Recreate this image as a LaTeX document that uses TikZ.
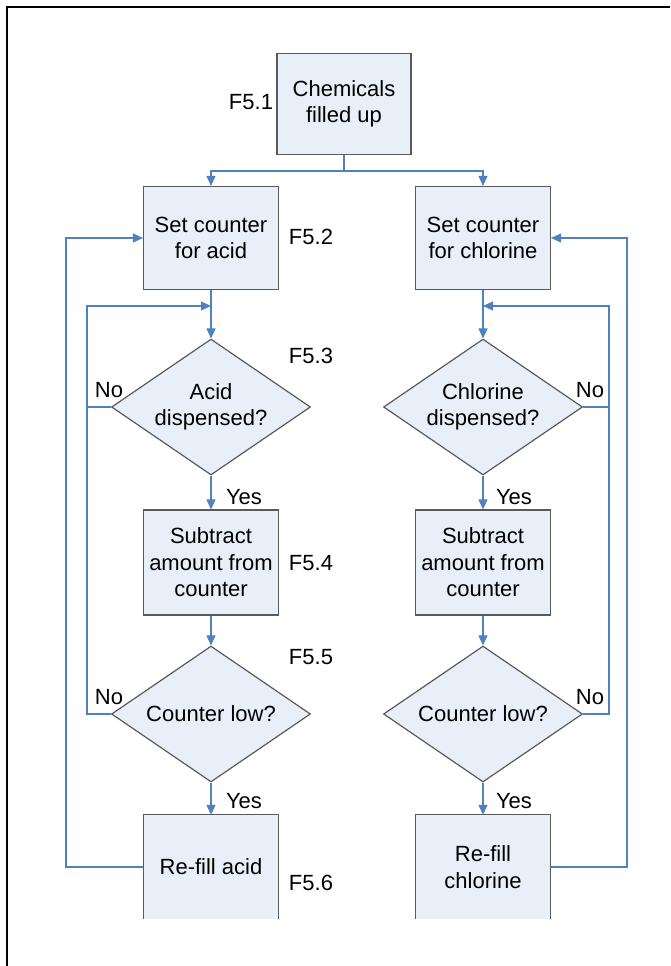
\documentclass[tikz,border=0pt]{standalone}
\usepackage{fontspec}
\setmainfont{Liberation Sans}
\usetikzlibrary{shapes.geometric,arrows.meta}
\definecolor{boxfill}{RGB}{233,239,248}
\definecolor{boxline}{RGB}{90,90,90}
\definecolor{conn}{RGB}{79,129,189}
\begin{document}
\begin{tikzpicture}[x=1pt,y=-1pt,
  font=\fontsize{22}{26.5}\selectfont,
  procbox/.style={draw=boxline,fill=boxfill,line width=1.2pt,align=center,inner sep=0pt,
    minimum width=135pt,minimum height=103pt},
  fillbox/.style={fill=boxfill,align=center,inner sep=0pt,minimum width=135pt,minimum height=104pt},
  decision/.style={diamond,aspect=1.46,draw=boxline,fill=boxfill,line width=1.2pt,align=center,inner sep=0pt,
    minimum width=199pt,minimum height=136pt},
  conline/.style={draw=conn,line width=1.1pt},
  conarrow/.style={conline,-{Triangle[length=10pt,width=9pt]}},
  lbl/.style={inner sep=0pt,anchor=center}]
\useasboundingbox (0,0) rectangle (670,966);
% frame
\coordinate (fb) at (7,966);
\coordinate (fc) at (7,7);
\coordinate (fr) at (670,7);
\draw[line width=2pt] (fb) -- (fc) -- (fr);

% nodes
\node[procbox,minimum width=134pt,minimum height=101pt] (n1) at (344,104) {Chemicals\\filled up};
\node[procbox] (a2) at (211,238) {Set counter\\for acid};
\node[procbox] (c2) at (483,238) {Set counter\\for chlorine};
\node[decision] (a3) at (211,407) {Acid\\dispensed?};
\node[decision] (c3) at (483,407) {Chlorine\\dispensed?};
\node[procbox,minimum height=105pt] (a4) at (211,562.5) {Subtract\\amount from\\counter};
\node[procbox,minimum height=105pt] (c4) at (483,562.5) {Subtract\\amount from\\counter};
\node[decision] (a5) at (211,714) {Counter low?};
\node[decision] (c5) at (483,714) {Counter low?};
\node[fillbox] (a6) at (211,867) {Re-fill acid};
\node[fillbox] (c6) at (483,867) {Re-fill\\chlorine};
\draw[draw=boxline,line width=1.2pt] (a6.south west) -- (a6.north west) -- (a6.north east) -- (a6.south east);
\draw[draw=boxline,line width=1.2pt] (c6.south west) -- (c6.north west) -- (c6.north east) -- (c6.south east);

% labels
\node[lbl] (f1) at (251,102) {F5.1};
\node[lbl] (f2) at (311,237) {F5.2};
\node[lbl] (f3) at (311,356) {F5.3};
\node[lbl] (f4) at (311,563) {F5.4};
\node[lbl] (f5) at (311,657) {F5.5};
\node[lbl] (f6) at (311,883) {F5.6};
\node[lbl] (ya1) at (244,497) {Yes};
\node[lbl] (ya2) at (244,801) {Yes};
\node[lbl] (yc1) at (514,497) {Yes};
\node[lbl] (yc2) at (514,801) {Yes};
\node[lbl] (na1) at (109,390) {No};
\node[lbl] (na2) at (109,697) {No};
\node[lbl] (nc1) at (590,390) {No};
\node[lbl] (nc2) at (590,697) {No};

% coordinates
\coordinate (j1) at (344,171);
\coordinate (ma) at (211,306);
\coordinate (mc) at (483,306);
\coordinate (ia) at (87,306);
\coordinate (ic) at (609,306);
\coordinate (oa) at (66,238);
\coordinate (oc) at (627,238);

% connectors
\draw[conline] (n1.south) -- (j1);
\draw[conarrow] (j1) -| (a2.north);
\draw[conarrow] (j1) -| (c2.north);
\draw[conarrow] (a2.south) -- (a3.north);
\draw[conarrow] (c2.south) -- (c3.north);
\draw[conarrow] (a3.south) -- (a4.north);
\draw[conarrow] (c3.south) -- (c4.north);
\draw[conarrow] (a4.south) -- (a5.north);
\draw[conarrow] (c4.south) -- (c5.north);
\draw[conarrow] (a5.south) -- (a6.north);
\draw[conarrow] (c5.south) -- (c6.north);
% inner loops
\draw[conarrow] (a5.west) -| (ia) -- (ma);
\draw[conline] (a3.west) -- (a3.west -| ia);
\draw[conarrow] (c5.east) -| (ic) -- (mc);
\draw[conline] (c3.east) -- (c3.east -| ic);
% outer loops
\draw[conarrow] (a6.west) -| (oa) -- (a2.west);
\draw[conarrow] (c6.east) -| (oc) -- (c2.east);
\end{tikzpicture}
\end{document}
